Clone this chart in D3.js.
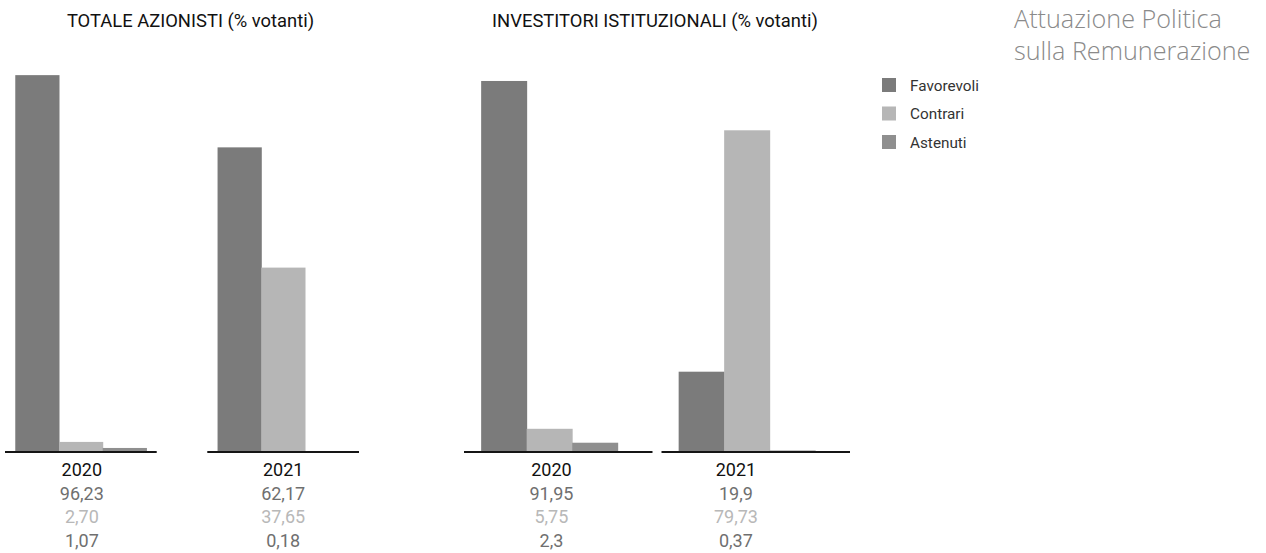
<!DOCTYPE html>
<html>
<head>
<meta charset="utf-8">
<script src="https://cdn.jsdelivr.net/npm/d3@7"></script>
<style>
  html, body { margin: 0; padding: 0; background: #fff; }
  svg { display: block; font-family: Roboto, "Noto Sans", sans-serif; }
</style>
</head>
<body>
<svg id="chart" width="1266" height="553"></svg>
<script>
// ---------- DATA ----------
const years = ["2020", "2021"];
const seriesNames = ["Favorevoli", "Contrari", "Astenuti"];
const seriesColors = ["#7b7b7b", "#b6b6b6", "#8f8f8f"];
const labelColors = ["#6f6f6f", "#b8b8b8", "#6f6f6f"];

// Totale azionisti: bar heights as drawn in the picture, and printed values
const totaleBars2020 = [93.4, 2.5, 1.0];
const totaleBars2021 = [75.5, 45.7, 0.25];
const totaleLabels2020 = ["96,23", "2,70", "1,07"];
const totaleLabels2021 = ["62,17", "37,65", "0,18"];

// Investitori istituzionali
const istitBars2020 = [91.95, 5.75, 2.3];
const istitBars2021 = [19.9, 79.73, 0.37];
const istitLabels2020 = ["91,95", "5,75", "2,3"];
const istitLabels2021 = ["19,9", "79,73", "0,37"];

const chartTitles = ["TOTALE AZIONISTI (% votanti)", "INVESTITORI ISTITUZIONALI (% votanti)"];
const pageTitle = ["Attuazione Politica", "sulla Remunerazione"];

// ---------- DRAW ----------
const svg = d3.select("#chart");
const y = d3.scaleLinear().domain([0, 100]).range([452, 48.5]);

function drawPanel(cfg) {
  const g = svg.append("g");
  const x0 = d3.scaleBand().domain(years).range(cfg.range).paddingInner(cfg.padInner);
  const x1 = d3.scaleBand().domain(seriesNames).range([0, x0.bandwidth()])
    .paddingOuter(cfg.padOuter).paddingInner(0).align(cfg.align);

  const groups = g.selectAll("g.grp").data(years.map((yr, i) => ({
      year: yr, bars: cfg.bars[i], labels: cfg.labels[i], shift: cfg.labelShift[i]
    }))).join("g")
    .attr("class", "grp")
    .attr("transform", d => `translate(${x0(d.year)},0)`);

  groups.selectAll("rect").data(d => d.bars.map((v, j) => ({ name: seriesNames[j], v, j })))
    .join("rect")
    .attr("x", d => x1(d.name))
    .attr("width", x1.bandwidth() + 0.5)
    .attr("y", d => y(d.v))
    .attr("height", d => y(0) - y(d.v))
    .attr("fill", d => seriesColors[d.j]);

  // baseline per group
  groups.append("line")
    .attr("x1", 0).attr("x2", x0.bandwidth())
    .attr("y1", y(0)).attr("y2", y(0))
    .attr("stroke", "#151515").attr("stroke-width", 2);

  const cx = x1(seriesNames[0]) + (x1(seriesNames[2]) + x1.bandwidth() - x1(seriesNames[0])) / 2;

  groups.append("text")
    .attr("x", d => cx + d.shift).attr("y", 476)
    .attr("text-anchor", "middle")
    .attr("font-size", 18).attr("fill", "#111")
    .text(d => d.year);

  groups.each(function (d) {
    d3.select(this).selectAll("text.val").data(d.labels.map((t, j) => ({ t, j })))
      .join("text")
      .attr("class", "val")
      .attr("x", cx + d.shift)
      .attr("y", e => 500 + e.j * 23.3)
      .attr("text-anchor", "middle")
      .attr("font-size", 18)
      .attr("fill", e => labelColors[e.j])
      .text(e => e.t);
  });

  g.append("text")
    .attr("x", cfg.titleX).attr("y", 27)
    .attr("text-anchor", "middle")
    .attr("font-size", 18.4).attr("fill", "#111")
    .text(cfg.title);
}

drawPanel({
  range: [5, 359], padInner: 0.25, padOuter: 0.235, align: 0.5, labelShift: [1, 0],
  bars: [totaleBars2020, totaleBars2021],
  labels: [totaleLabels2020, totaleLabels2021],
  title: chartTitles[0], titleX: 190.5
});

drawPanel({
  range: [464, 850], padInner: 0.0456, padOuter: 0.571, align: 0.33, labelShift: [2, -11],
  bars: [istitBars2020, istitBars2021],
  labels: [istitLabels2020, istitLabels2021],
  title: chartTitles[1], titleX: 655
});

// legend
const legend = svg.append("g").attr("transform", "translate(882,78)");
const li = legend.selectAll("g").data(seriesNames).join("g")
  .attr("transform", (d, i) => `translate(0,${i * 28.5})`);
li.append("rect").attr("width", 14).attr("height", 14)
  .attr("fill", (d, i) => seriesColors[i]);
li.append("text").attr("x", 28).attr("y", 12.5)
  .attr("font-size", 15.3).attr("fill", "#333")
  .text(d => d);

// page title
svg.append("g").selectAll("text").data(pageTitle).join("text")
  .attr("x", 1014).attr("y", (d, i) => 28 + i * 32)
  .attr("font-family", "'Open Sans', 'Noto Sans', sans-serif")
  .attr("font-weight", 300)
  .attr("font-size", 25.2).attr("fill", "#8a8a8a")
  .text(d => d);
</script>
</body>
</html>
